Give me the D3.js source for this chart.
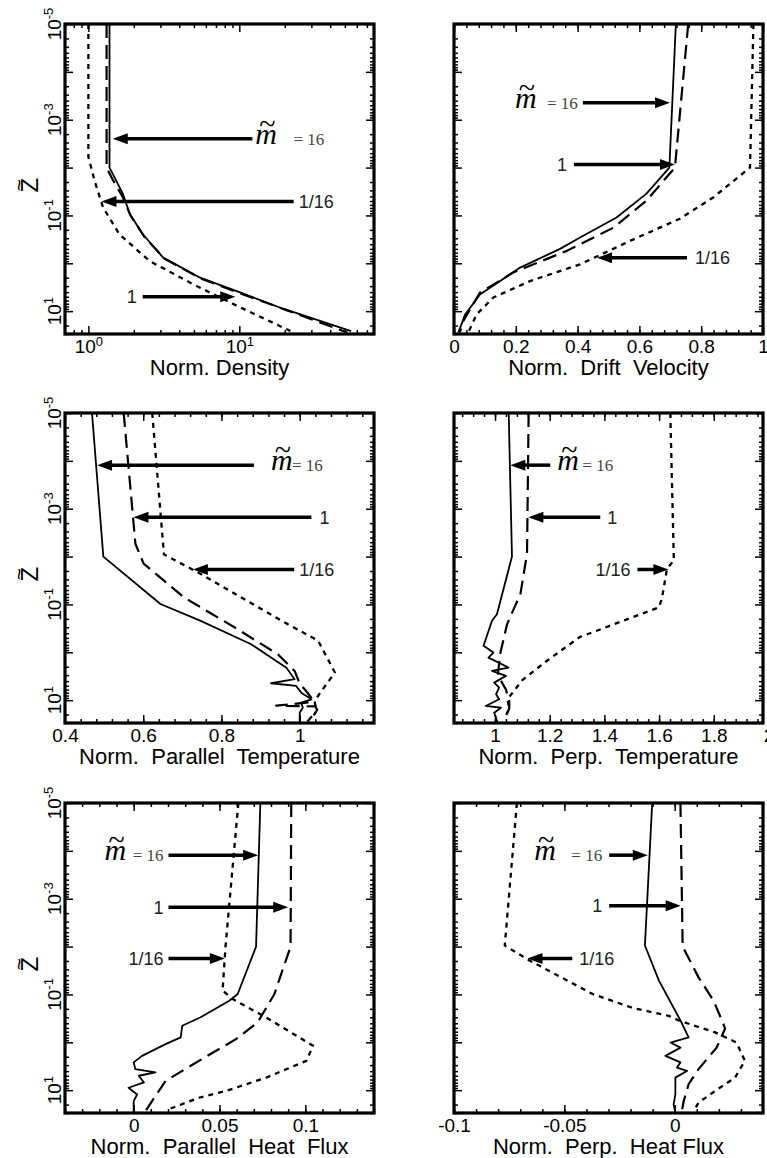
<!DOCTYPE html>
<html>
<head>
<meta charset="utf-8">
<script src="https://cdn.jsdelivr.net/npm/d3@7"></script>
<style>
  body { margin: 0; background: #fff; }
  text { white-space: pre; }
</style>
</head>
<body>
<script>
// z range shared by every panel (log, top = 1e-5)
const zDomain = [1e-5, 30];
const zLabelTicks = [1e-5, 1e-3, 1e-1, 1e1];

// each series: [value, z]
// density (log x)
const densityM16 = [[1.38,1e-5],[1.38,0.01],[1.49,0.016],[1.69,0.035],[1.88,0.093],[2.3,0.25],[3.13,0.76],[5.5,2.0],[10.2,4.1],[19.7,9.0],[55,26]];
const densityM1 = [[1.32,1e-5],[1.32,0.01],[1.45,0.018],[1.68,0.04],[1.9,0.1],[2.35,0.28],[3.2,0.8],[5.6,2.1],[10.5,4.4],[20.5,9.5],[52,28]];
const densityM116 = [[1.0,1e-5],[1.0,0.006],[1.1,0.019],[1.25,0.068],[1.61,0.25],[2.55,0.9],[4.96,2.75],[9.2,7.2],[21.8,26]];

// drift velocity
const driftM16 = [[0.718,1e-5],[0.697,0.01],[0.623,0.035],[0.526,0.11],[0.408,0.29],[0.343,0.5],[0.214,1.23],[0.084,4.5],[0.036,11.7],[0.014,28]];
const driftM1 = [[0.758,1e-5],[0.715,0.01],[0.623,0.049],[0.516,0.18],[0.365,0.55],[0.192,1.55],[0.084,4.1],[0.030,16],[0.019,28]];
const driftM116 = [[0.969,1e-5],[0.958,0.01],[0.839,0.042],[0.731,0.117],[0.57,0.34],[0.408,1.05],[0.246,2.35],[0.127,5.2],[0.073,11.7],[0.046,28]];

// parallel temperature
const parTempM16 = [[0.469,1e-5],[0.498,0.01],[0.644,0.098],[0.747,0.22],[0.876,0.68],[0.966,2.1],[0.987,3.65],[0.927,4.43],[0.991,5.04],[1.004,6.96],[1.03,9.58],[1.004,11.3],[1.008,14.4],[1.0,18.3],[1.0,30]];
const parTempM1 = [[0.55,1e-5],[0.58,0.0054],[0.601,0.014],[0.704,0.071],[0.833,0.30],[0.944,1.1],[0.987,2.45],[1.0,4.5],[1.02,7.0],[1.03,9.0],[1.03,11],[0.94,13],[1.04,13.5],[1.045,16],[1.02,28]];
const parTempM116 = [[0.623,1e-5],[0.653,0.009],[0.747,0.023],[0.85,0.071],[0.97,0.26],[1.047,0.57],[1.09,2.65],[1.056,6.4],[1.038,10.4],[1.043,16.8],[1.03,25]];

// perpendicular temperature
const perpTempM16 = [[1.05,1e-5],[1.062,0.01],[1.007,0.16],[0.989,0.22],[0.958,0.73],[0.994,1.01],[0.976,1.29],[1.049,2.08],[0.989,2.44],[1.04,3.11],[0.997,4.3],[1.015,5.47],[1.004,7.5],[1.015,9.6],[0.966,13.2],[1.022,14.4],[0.997,18.3],[1.01,30]];
const perpTempM1 = [[1.123,1e-5],[1.117,0.0087],[1.093,0.06],[1.044,0.26],[1.02,1.0],[1.01,3.0],[1.04,6.0],[1.052,10.5],[1.052,15],[1.034,25]];
const perpTempM116 = [[1.641,1e-5],[1.654,0.012],[1.629,0.018],[1.611,0.071],[1.60,0.115],[1.31,0.48],[1.19,1.5],[1.10,3.8],[1.046,9.5],[1.052,15],[1.034,25]];

// parallel heat flux
const parFluxM16 = [[0.0738,1e-5],[0.0713,0.01],[0.0606,0.098],[0.0557,0.135],[0.039,0.3],[0.0283,0.45],[0.0274,0.79],[0.0186,1.09],[0.0049,1.92],[0.0,2.63],[0.001,3.63],[0.0127,4.27],[0.003,5.0],[0.006,6.9],[-0.003,8.9],[0.002,12.3],[0.0,17],[0.0,30]];
const parFluxM1 = [[0.0918,1e-5],[0.0914,0.01],[0.084,0.06],[0.082,0.098],[0.074,0.3],[0.0723,0.38],[0.0596,0.86],[0.038,2.44],[0.0186,6.4],[0.0108,16.8],[0.0069,27.3]];
const parFluxM116 = [[0.061,1e-5],[0.0535,0.01],[0.0518,0.083],[0.0577,0.125],[0.077,0.30],[0.1045,1.18],[0.1006,2.44],[0.077,5.5],[0.0537,10.4],[0.038,14.4],[0.0205,25]];

// perpendicular heat flux
const perpFluxM16 = [[-0.0102,1e-5],[-0.0135,0.0095],[-0.0072,0.051],[0.0026,0.35],[0.0063,0.79],[-0.0019,1.01],[0.0026,1.29],[-0.0042,1.92],[0.0026,2.63],[0.001,3.37],[0.0056,3.95],[0.0003,5.47],[0.0003,12.2],[-0.0005,19.8],[0.0003,30]];
const perpFluxM1 = [[0.0026,1e-5],[0.0036,0.01],[0.0108,0.044],[0.0176,0.135],[0.0221,0.42],[0.0228,0.52],[0.019,1.29],[0.0108,3.63],[0.0063,7.5],[0.0041,16.8],[0.0033,26]];
const perpFluxM116 = [[-0.0715,1e-5],[-0.077,0.0095],[-0.0658,0.0195],[-0.0372,0.098],[-0.0192,0.19],[-0.0027,0.28],[0.0018,0.35],[0.0183,0.62],[0.028,1.01],[0.0318,2.44],[0.0273,5.47],[0.0183,10.4],[0.0108,18.2],[0.0086,27.3]];

// arrows: text, z, from -> to (data units)
const densityNotes = [
  {text:"16", mt:true, z:0.0025, from:12.2, to:1.45, gap:3, eqGap:18},
  {text:"1/16", z:0.051, from:22.9, to:1.22, gap:5},
  {text:"1", z:5.0, from:2.29, to:9.4, gap:6}];
const driftNotes = [
  {text:"16", mt:true, z:4.4e-4, from:0.417, to:0.699, gap:5, eqGap:12},
  {text:"1", z:0.0086, from:0.388, to:0.715, gap:7},
  {text:"1/16", z:0.77, from:0.754, to:0.463, gap:8}];
const parTempNotes = [
  {text:"16", mt:true, z:1.23e-4, from:0.883, to:0.482, gap:17, eqGap:1},
  {text:"1", z:0.0015, from:1.03, to:0.575, gap:8},
  {text:"1/16", z:0.0186, from:0.986, to:0.727, gap:5}];
const perpTempNotes = [
  {text:"16", mt:true, z:1.23e-4, from:1.202, to:1.056, gap:7, eqGap:5},
  {text:"1", z:0.0015, from:1.385, to:1.122, gap:7},
  {text:"1/16", z:0.0186, from:1.521, to:1.634, gap:7}];
const parFluxNotes = [
  {text:"16", mt:true, z:1.23e-4, from:0.0203, to:0.0725, gap:5, eqGap:8},
  {text:"1", z:0.0015, from:0.0203, to:0.09, gap:5},
  {text:"1/16", z:0.0178, from:0.0203, to:0.0531, gap:5}];
const perpFluxNotes = [
  {text:"16", mt:true, z:1.23e-4, from:-0.0297, to:-0.0122, gap:7, eqGap:17},
  {text:"1", z:0.0014, from:-0.0297, to:0.0027, gap:7},
  {text:"1/16", z:0.0178, from:-0.0464, to:-0.0667, gap:7}];

const panels = [
  {col:0, row:0, title:"Norm. Density", xlog:true, xDomain:[0.7,78], xLabels:[1,10],
   series:[densityM16, densityM1, densityM116], notes:densityNotes},
  {col:1, row:0, title:"Norm.  Drift  Velocity", xDomain:[0,1], xLabels:[0,0.2,0.4,0.6,0.8,1],
   series:[driftM16, driftM1, driftM116], notes:driftNotes},
  {col:0, row:1, title:"Norm.  Parallel  Temperature", xDomain:[0.4,1.19], xLabels:[0.4,0.6,0.8,1],
   series:[parTempM16, parTempM1, parTempM116], notes:parTempNotes},
  {col:1, row:1, title:"Norm.  Perp.  Temperature", xDomain:[0.85,1.98], xLabels:[1,1.2,1.4,1.6,1.8,2],
   series:[perpTempM16, perpTempM1, perpTempM116], notes:perpTempNotes},
  {col:0, row:2, title:"Norm.  Parallel  Heat  Flux", xDomain:[-0.04,0.14], xLabels:[0,0.05,0.1],
   series:[parFluxM16, parFluxM1, parFluxM116], notes:parFluxNotes},
  {col:1, row:2, title:"Norm.  Perp.  Heat Flux", xDomain:[-0.1,0.04], xLabels:[-0.1,-0.05,0],
   series:[perpFluxM16, perpFluxM1, perpFluxM116], notes:perpFluxNotes}
];

const colLeft = [65, 454], rowTop = [24, 413, 803];
const W = 309, H = 310;
const lineStyles = [{dash:null, w:1.8}, {dash:"14,7", w:2.2}, {dash:"5,5", w:2.3}];
const sans = "'Liberation Sans', Arial, Helvetica, sans-serif";
const serif = "'Liberation Serif', 'Times New Roman', serif";

let svg = d3.select("body").append("svg")
  .attr("width", 767).attr("height", 1158)
  .attr("font-family", sans);

// log ticks for z
let zMinor = [], zMajor = [];
for (let e = -5; e <= 1; e++) {
  for (let k = 1; k <= 9; k++) {
    let v = k * Math.pow(10, e);
    if (v < zDomain[0] || v > zDomain[1]) continue;
    if (k == 1) zMajor.push(v); else zMinor.push(v);
  }
}

function tickGroup(g, axis, tr) {
  g.append("g").attr("transform", tr).call(axis)
    .call(s => s.select(".domain").remove())
    .selectAll("line").attr("stroke", "#000").attr("stroke-width", 1.5);
}

panels.forEach(function(p, pi) {
  let g = svg.append("g").attr("transform", "translate(" + colLeft[p.col] + "," + rowTop[p.row] + ")");

  let x = p.xlog ? d3.scaleLog().domain(p.xDomain).range([0, W])
                 : d3.scaleLinear().domain(p.xDomain).range([0, W]);
  let y = d3.scaleLog().domain(zDomain).range([0, H]);

  // x ticks (major + minor)
  let xMajor = p.xLabels.filter(v => v >= p.xDomain[0] && v <= p.xDomain[1]);
  let xMinor = [];
  if (p.xlog) {
    for (let e = -1; e <= 1; e++)
      for (let k = 2; k <= 9; k++) {
        let v = k * Math.pow(10, e);
        if (v >= p.xDomain[0] && v <= p.xDomain[1]) xMinor.push(v);
      }
  } else {
    let step = (p.xLabels[1] - p.xLabels[0]) / 5;
    for (let v = Math.ceil(p.xDomain[0] / step) * step; v <= p.xDomain[1] + 1e-9; v += step) xMinor.push(v);
  }

  tickGroup(g, d3.axisBottom(x).tickValues(xMajor).tickSize(-8).tickFormat(""), "translate(0," + H + ")");
  tickGroup(g, d3.axisBottom(x).tickValues(xMinor).tickSize(-4).tickFormat(""), "translate(0," + H + ")");
  tickGroup(g, d3.axisTop(x).tickValues(xMajor).tickSize(-8).tickFormat(""), "translate(0,0)");
  tickGroup(g, d3.axisTop(x).tickValues(xMinor).tickSize(-4).tickFormat(""), "translate(0,0)");
  tickGroup(g, d3.axisLeft(y).tickValues(zMajor).tickSize(-8).tickFormat(""), "translate(0,0)");
  tickGroup(g, d3.axisLeft(y).tickValues(zMinor).tickSize(-4).tickFormat(""), "translate(0,0)");
  tickGroup(g, d3.axisRight(y).tickValues(zMajor).tickSize(-8).tickFormat(""), "translate(" + W + ",0)");
  tickGroup(g, d3.axisRight(y).tickValues(zMinor).tickSize(-4).tickFormat(""), "translate(" + W + ",0)");

  // x tick labels
  let xl = g.append("g").attr("transform", "translate(0," + H + ")")
    .call(d3.axisBottom(x).tickValues(p.xLabels).tickSize(0).tickPadding(6).tickFormat(d => String(d)));
  xl.select(".domain").remove();
  xl.attr("font-family", sans).attr("font-size", 19);
  if (p.xlog) {
    xl.selectAll("text").each(function(d) {
      let t = d3.select(this).text(null);
      t.append("tspan").text("10");
      t.append("tspan").attr("dy", -8).attr("font-size", 13).text(String(Math.round(Math.log10(d))));
    });
  }

  // z tick labels and Z~ title (left column only), rotated
  if (p.col == 0) {
    zLabelTicks.forEach(function(z) {
      let t = g.append("text")
        .attr("transform", "translate(-4," + y(z) + ") rotate(-90)")
        .attr("text-anchor", "middle").attr("font-size", 19);
      t.append("tspan").text("10");
      t.append("tspan").attr("dy", -8).attr("font-size", 13).text(String(Math.round(Math.log10(z))));
    });
    let zt = g.append("text")
      .attr("transform", "translate(-27," + (H / 2 + 6) + ") rotate(-90)")
      .attr("x", -7.5).attr("font-size", 24);
    zt.append("tspan").text("Z");
    zt.append("tspan").attr("dx", -13.5).attr("dy", -12).attr("font-size", 21).text("~");
  }

  // curves
  let clipId = "clip" + pi;
  g.append("clipPath").attr("id", clipId).append("rect").attr("width", W).attr("height", H);
  let line = d3.line().x(d => x(d[0])).y(d => y(d[1]));
  g.append("g").attr("clip-path", "url(#" + clipId + ")")
    .selectAll("path").data(p.series).enter().append("path")
    .attr("d", line)
    .attr("fill", "none").attr("stroke", "#000")
    .attr("stroke-width", (d, i) => lineStyles[i].w)
    .attr("stroke-dasharray", (d, i) => lineStyles[i].dash)
    .attr("stroke-linejoin", "round");

  // frame
  g.append("rect").attr("width", W).attr("height", H)
    .attr("fill", "none").attr("stroke", "#000").attr("stroke-width", 3.2);

  // x title
  g.append("text").attr("x", W / 2).attr("y", H + 41)
    .attr("text-anchor", "middle").attr("font-size", 22).text(p.title);

  // arrows + labels
  p.notes.forEach(function(n) {
    let yy = y(n.z), x0 = x(n.from), x1 = x(n.to);
    let dir = x1 > x0 ? 1 : -1;
    let hl = 15, hw = 5.5;
    g.append("line").attr("x1", x0).attr("y1", yy).attr("x2", x1 - dir * (hl - 2)).attr("y2", yy)
      .attr("stroke", "#000").attr("stroke-width", 3.5);
    g.append("path")
      .attr("d", "M" + x1 + "," + yy + "L" + (x1 - dir * hl) + "," + (yy - hw) + "L" + (x1 - dir * hl) + "," + (yy + hw) + "Z")
      .attr("fill", "#000");

    if (!n.mt) {
      g.append("text")
        .attr("x", x0 - dir * n.gap).attr("y", yy).attr("dy", "0.36em")
        .attr("text-anchor", dir > 0 ? "end" : "start")
        .attr("font-size", 18).attr("fill", "#222").text(n.text);
    } else {
      // m~ = 16 as one text: italic m, tilde over it, then "= 16"
      let t = g.append("text").attr("y", yy + 5).attr("font-family", serif)
        .attr("x", x0 - dir * n.gap).attr("text-anchor", dir > 0 ? "end" : "start");
      t.append("tspan").attr("font-style", "italic").attr("font-size", 30).text("m");
      t.append("tspan").attr("font-size", 30).attr("dx", -17.8).attr("dy", -10).text("~");
      t.append("tspan").attr("font-size", 17).attr("fill", "#444")
        .attr("dx", n.eqGap).attr("dy", 11).text("= " + n.text);
    }
  });
});
</script>
</body>
</html>
